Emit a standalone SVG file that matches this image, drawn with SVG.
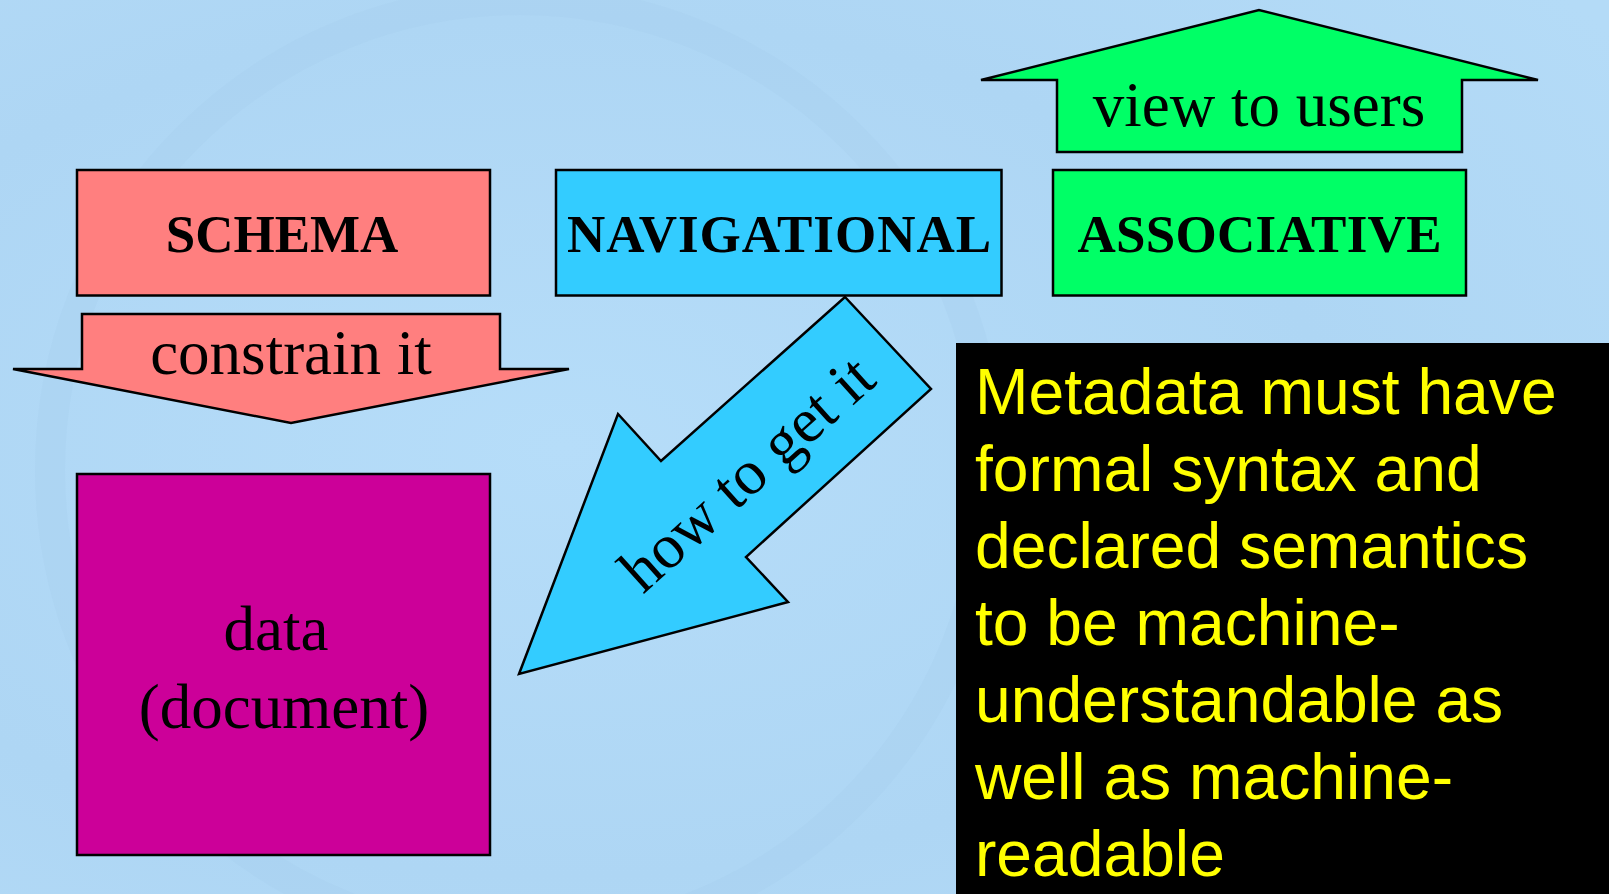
<svg xmlns="http://www.w3.org/2000/svg" width="1609" height="894" viewBox="0 0 1609 894">
<defs>
<radialGradient id="bg" cx="0.35" cy="0.5" r="0.8">
<stop offset="0" stop-color="#b6ddf9"/>
<stop offset="0.6" stop-color="#aed6f4"/>
<stop offset="1" stop-color="#b4dbf7"/>
</radialGradient>
<style>
.box{stroke:#000;stroke-width:2.5}
.lbl{font-family:"Liberation Serif","Times New Roman",serif;font-weight:bold;font-size:53px;text-anchor:middle;fill:#000}
.arr{font-family:"Liberation Serif","Times New Roman",serif;font-size:63px;text-anchor:middle;fill:#000}
.note{font-family:"Liberation Sans",Arial,sans-serif;font-size:64.2px;fill:#ffff00}
</style>
</defs>
<rect width="1609" height="894" fill="url(#bg)"/>
<circle cx="520" cy="470" r="470" fill="none" stroke="#a2cbec" stroke-width="30" opacity="0.25"/>

<g id="connectors">
<g id="constrain-arrow">
<polygon class="box" fill="#ff7f7f" points="82,314 500,314 500,369 569,369 291,423 13,369 82,369"/>
<text class="arr" x="291" y="374">constrain it</text>
</g>
<g id="view-arrow">
<polygon class="box" fill="#00ff66" points="1057,152 1462,152 1462,80 1538,80 1259,10 981,80 1057,80"/>
<text class="arr" x="1259" y="126">view to users</text>
</g>
<g id="how-arrow">
<polygon class="box" fill="#33ccff" points="845,297 931,389 746,557 788,602 519,674 618,414 661,461"/>
<text class="arr" transform="translate(750,477) rotate(-42)" x="0" y="16">how to get it</text>
</g>
</g>

<g id="schema">
<rect class="box" x="77" y="170" width="413" height="125.5" fill="#ff7f7f"/>
<text class="lbl" x="282" y="252">SCHEMA</text>
</g>
<g id="navigational">
<rect class="box" x="556" y="170" width="445.5" height="125.5" fill="#33ccff"/>
<text class="lbl" x="779" y="252" textLength="424" lengthAdjust="spacing">NAVIGATIONAL</text>
</g>
<g id="associative">
<rect class="box" x="1053" y="170" width="413" height="125.5" fill="#00ff66"/>
<text class="lbl" x="1259.5" y="252" textLength="364" lengthAdjust="spacing">ASSOCIATIVE</text>
</g>
<g id="data">
<rect class="box" x="77" y="474" width="413" height="381" fill="#cc0099"/>
<text class="arr" x="276" y="650">data</text>
<text class="arr" x="284" y="728">(document)</text>
</g>
<g id="note">
<rect x="956" y="343" width="653" height="551" fill="#000"/>
<text class="note" x="975" y="413.5">Metadata must have</text>
<text class="note" x="975" y="490.5">formal syntax and</text>
<text class="note" x="975" y="567.5">declared semantics</text>
<text class="note" x="975" y="644.5">to be machine-</text>
<text class="note" x="975" y="721.5">understandable as</text>
<text class="note" x="975" y="798.5">well as machine-</text>
<text class="note" x="975" y="875.5">readable</text>
</g>
</svg>
